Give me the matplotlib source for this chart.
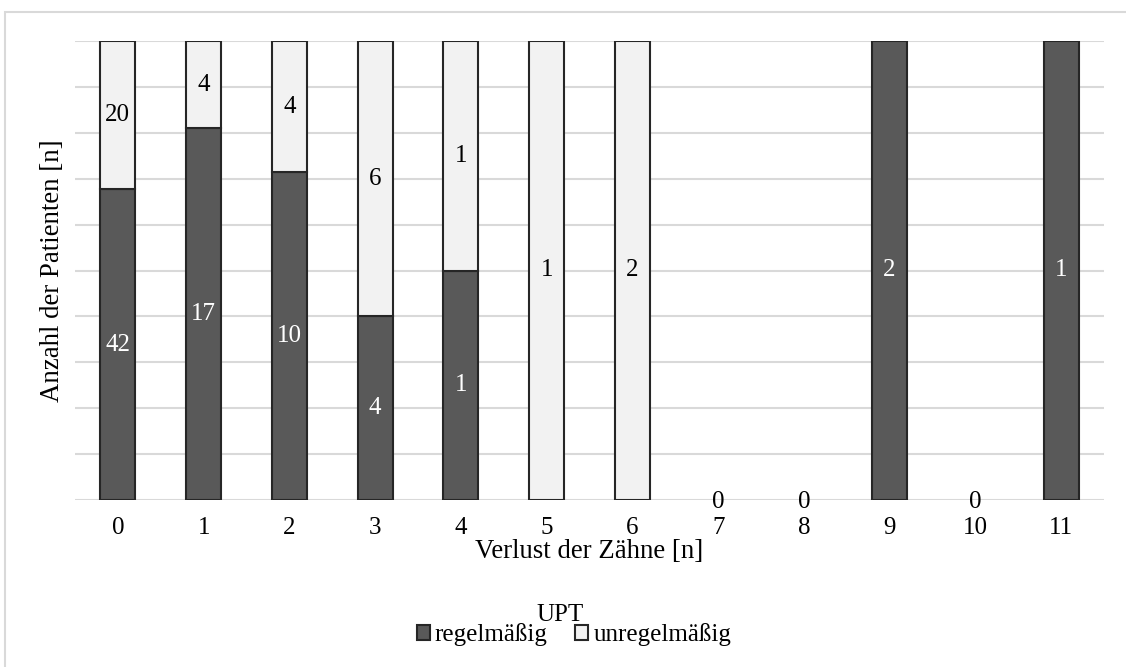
import matplotlib
matplotlib.use("Agg")
import matplotlib.pyplot as plt
from matplotlib.patches import Rectangle
import numpy as np

plt.rcParams['font.family'] = ['Liberation Serif', 'DejaVu Serif']

categories = ["0", "1", "2", "3", "4", "5", "6", "7", "8", "9", "10", "11"]
regelmaessig = [42, 17, 10, 4, 1, 0, 0, 0, 0, 2, 0, 1]
unregelmaessig = [20, 4, 4, 6, 1, 1, 2, 0, 0, 0, 0, 0]

reg = np.array(regelmaessig, dtype=float)
unreg = np.array(unregelmaessig, dtype=float)
total = reg + unreg
safe = np.where(total > 0, total, 1)
reg_share = np.where(total > 0, reg / safe, 0)
unreg_share = np.where(total > 0, unreg / safe, 0)

W, H = 1126, 667
fig = plt.figure(figsize=(W / 100, H / 100), dpi=100)

# outer chart frame
fig.patches.append(Rectangle((5 / W, -0.1), 1.2, 1 - 12 / H + 0.1,
                             transform=fig.transFigure, fill=False,
                             edgecolor='#d9d9d9', linewidth=1.5, zorder=0))

ax = fig.add_axes([75 / W, 1 - 500 / H, (1104 - 75) / W, (500 - 41) / H])

x = np.arange(len(categories))
dark = '#595959'
light = '#f2f2f2'
edge = '#262626'
bw = 0.41

b1 = ax.bar(x, reg_share, bw, color=dark, edgecolor=edge, linewidth=1.5,
            label='regelmäßig', zorder=3)
b2 = ax.bar(x, unreg_share, bw, bottom=reg_share, color=light, edgecolor=edge,
            linewidth=1.5, label='unregelmäßig', zorder=3)
# empty segments get no outline
for bars, share in ((b1, reg_share), (b2, unreg_share)):
    for p, s in zip(bars.patches, share):
        if s == 0:
            p.set_visible(False)

fs = 18
fs_title = 19.3
for i in range(len(categories)):
    if reg[i] > 0:
        ax.text(x[i], reg_share[i] / 2, f"{int(reg[i])}", ha='center', va='center',
                color='white', fontsize=fs, zorder=5)
    if unreg[i] > 0:
        ax.text(x[i], reg_share[i] + unreg_share[i] / 2, f"{int(unreg[i])}",
                ha='center', va='center', color='black', fontsize=fs, zorder=5)
    if total[i] == 0:
        ax.annotate("0", (x[i], 0), xytext=(0, -1.5), textcoords='offset points',
                    ha='center', va='center', color='black', fontsize=fs, zorder=5)

ax.set_xlim(-0.5, len(categories) - 0.5)
ax.set_ylim(0, 1)
ax.set_yticks(np.linspace(0, 1, 11))
ax.set_yticklabels([])
ax.tick_params(axis='y', length=0)
ax.set_xticks(x)
ax.set_xticklabels(categories, fontsize=fs)
ax.tick_params(axis='x', length=0, pad=12)
ax.grid(axis='y', color='#d9d9d9', linewidth=1.5, zorder=0)
for s in ax.spines.values():
    s.set_visible(False)

ax.set_xlabel("Verlust der Zähne [n]", fontsize=fs_title, labelpad=0)
ax.set_ylabel("Anzahl der Patienten [n]", fontsize=fs_title, labelpad=4)

fig.text(560 / W, 1 - 615 / H, "UPT", ha='center', va='center', fontsize=fs)
leg = fig.legend(handles=[b1, b2], loc='center', bbox_to_anchor=(574 / W, 1 - 635 / H),
                 ncol=2, frameon=False, fontsize=fs,
                 handlelength=0.52, handleheight=0.52, handletextpad=0.2,
                 columnspacing=1.1, borderpad=0)

fig.savefig("out.png", dpi=100)
